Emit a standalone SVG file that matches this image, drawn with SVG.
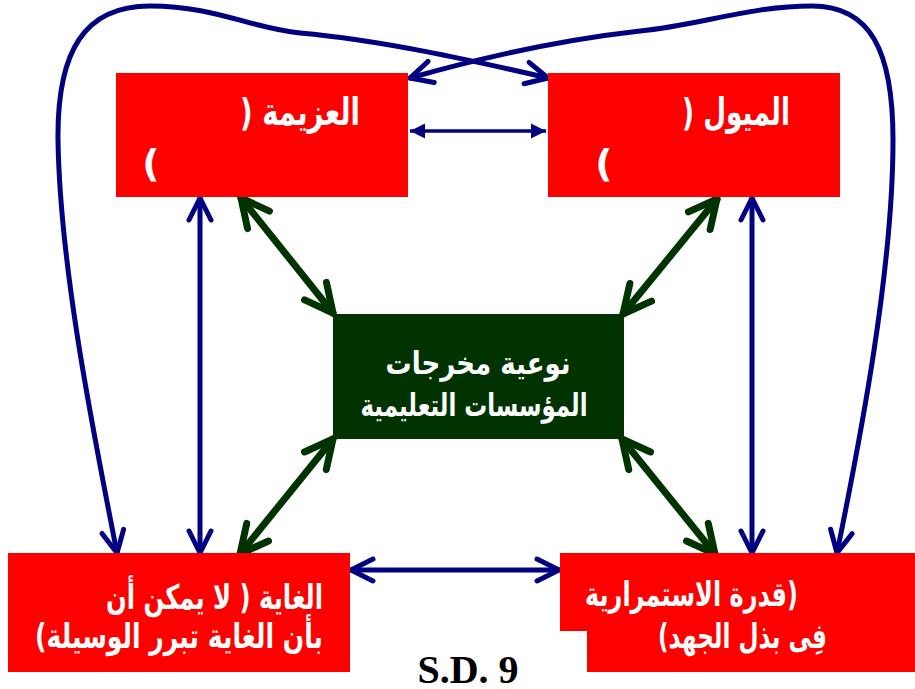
<svg xmlns="http://www.w3.org/2000/svg" width="915" height="689" viewBox="0 0 915 689">
<style>
.red{fill:#FF0000}
.grn{fill:#003300}
.t{font-family:"DejaVu Sans",sans-serif;font-weight:bold;fill:#FFFFFF}
.blue{stroke:#000080;stroke-width:5;fill:none;stroke-linecap:round}
.green{stroke:#003300;stroke-width:7;fill:none;stroke-linecap:round}
.thin{stroke:#000080;stroke-width:3.5;fill:none}
</style>
<defs>
<marker id="bh" markerUnits="userSpaceOnUse" markerWidth="40" markerHeight="40" refX="0" refY="0" orient="auto-start-reverse" overflow="visible">
<path d="M-22,-11 L0,0 L-22,11" fill="none" stroke="#000080" stroke-width="5" stroke-linecap="round" stroke-linejoin="round"/>
</marker>
<marker id="gh" markerUnits="userSpaceOnUse" markerWidth="50" markerHeight="50" refX="0" refY="0" orient="auto-start-reverse" overflow="visible">
<path d="M-28,-14 L0,0 L-28,14" fill="none" stroke="#003300" stroke-width="7" stroke-linecap="round" stroke-linejoin="round"/>
</marker>
<marker id="sh" markerUnits="userSpaceOnUse" markerWidth="30" markerHeight="30" refX="0" refY="0" orient="auto-start-reverse" overflow="visible">
<path d="M-15,-7.5 L0,0 L-15,7.5 Z" fill="#000080"/>
</marker>
</defs>

<g id="connectors">
<path class="blue" d="M117,553 C95,440 60,270 58,140 C57,50 85,6 150,6 C215,6 250,28 300,33 C380,40 470,60 548,78" marker-start="url(#bh)" marker-end="url(#bh)"/>
<path class="blue" d="M837,553 C860,440 893,270 893,140 C893,50 870,6 812,6 C750,6 700,25 640,31 C560,40 480,58 410,78" marker-start="url(#bh)" marker-end="url(#bh)"/>
<line class="thin" x1="410" y1="131" x2="546" y2="131" marker-start="url(#sh)" marker-end="url(#sh)"/>
<line class="blue" x1="200" y1="198" x2="200" y2="553" marker-start="url(#bh)" marker-end="url(#bh)"/>
<line class="blue" x1="752" y1="198" x2="752" y2="553" marker-start="url(#bh)" marker-end="url(#bh)"/>
<line class="blue" x1="351" y1="570" x2="559" y2="570" marker-start="url(#bh)" marker-end="url(#bh)"/>
<line class="green" x1="241" y1="198" x2="333" y2="313" marker-start="url(#gh)" marker-end="url(#gh)"/>
<line class="green" x1="333" y1="439" x2="240" y2="554" marker-start="url(#gh)" marker-end="url(#gh)"/>
<line class="green" x1="717" y1="199" x2="623" y2="314" marker-start="url(#gh)" marker-end="url(#gh)"/>
<line class="green" x1="622" y1="439" x2="715" y2="554" marker-start="url(#gh)" marker-end="url(#gh)"/>
</g>

<g id="node-azima">
<rect class="red" x="116" y="73" width="292" height="124"/>
<text class="t" x="360" y="125" font-size="38" direction="rtl" text-anchor="start" textLength="120" lengthAdjust="spacingAndGlyphs">العزيمة (</text>
<text class="t" x="151" y="176" font-size="38" direction="rtl" text-anchor="middle">)</text>
</g>

<g id="node-muyul">
<rect class="red" x="548" y="73" width="292" height="124"/>
<text class="t" x="790" y="125" font-size="38" direction="rtl" text-anchor="start" textLength="108" lengthAdjust="spacingAndGlyphs">الميول (</text>
<text class="t" x="604" y="176" font-size="38" direction="rtl" text-anchor="middle">)</text>
</g>

<g id="node-center">
<rect class="grn" x="333" y="314" width="291" height="125"/>
<text class="t" x="478" y="374" font-size="31" direction="rtl" text-anchor="middle" textLength="185" lengthAdjust="spacingAndGlyphs">نوعية مخرجات</text>
<text class="t" x="474" y="416" font-size="31" direction="rtl" text-anchor="middle" textLength="227" lengthAdjust="spacingAndGlyphs">المؤسسات التعليمية</text>
</g>

<g id="node-ghaya">
<rect class="red" x="8" y="553" width="342" height="119"/>
<text class="t" x="323" y="609" font-size="34" direction="rtl" text-anchor="start" textLength="217" lengthAdjust="spacingAndGlyphs">الغاية ( لا يمكن أن</text>
<text class="t" x="323" y="648" font-size="34" direction="rtl" text-anchor="start" textLength="288" lengthAdjust="spacingAndGlyphs">بأن الغاية تبرر الوسيلة)</text>
</g>

<g id="node-qudra">
<polygon class="red" points="560,553 915,553 915,672 587,672 587,631 560,631"/>
<text class="t" x="798" y="606" font-size="34" direction="rtl" text-anchor="start" textLength="213" lengthAdjust="spacingAndGlyphs">(قدرة الاستمرارية</text>
<text class="t" x="827" y="648" font-size="34" direction="rtl" text-anchor="start" textLength="169" lengthAdjust="spacingAndGlyphs">فِى بذل الجهد)</text>
</g>

<g id="label">
<text x="468" y="683" font-family="'Liberation Serif',serif" font-weight="bold" font-size="40" text-anchor="middle" fill="#000000">S.D. 9</text>
</g>
</svg>
